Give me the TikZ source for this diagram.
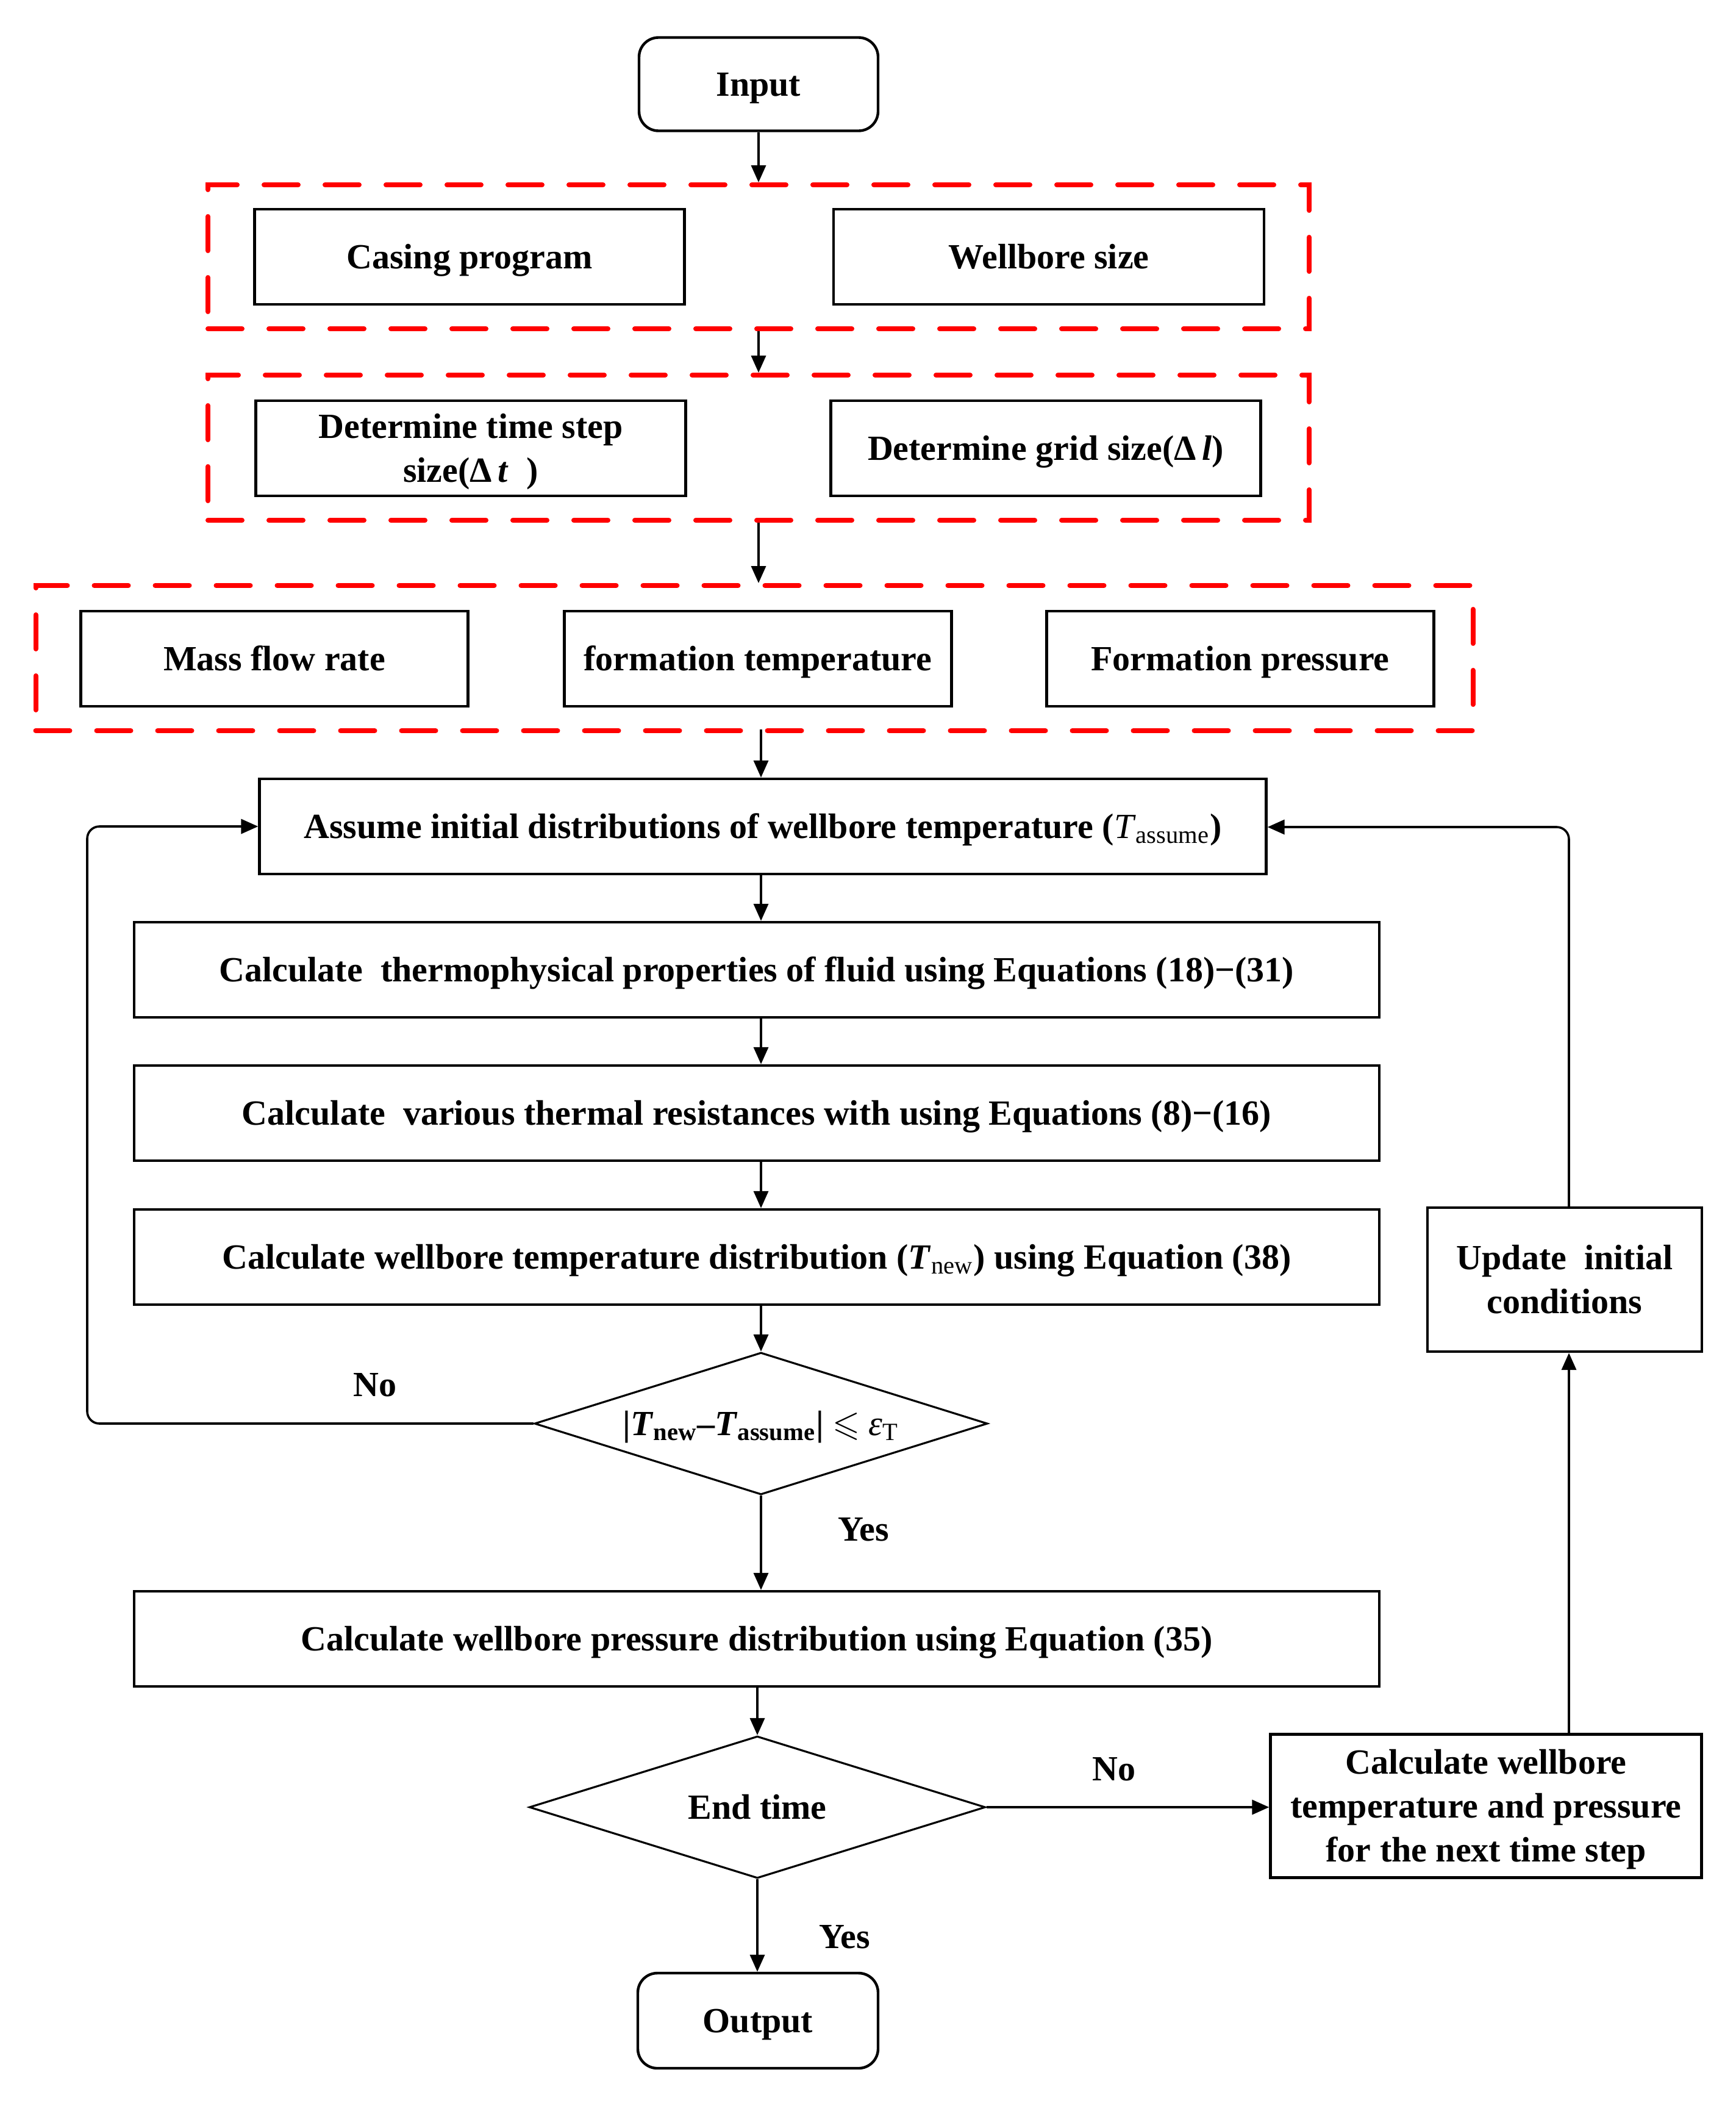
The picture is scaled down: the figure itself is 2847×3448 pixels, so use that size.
\documentclass[tikz,border=0pt]{standalone}
\usepackage{amsmath,amssymb}
\usepackage{fontspec}
\setmainfont{Liberation Serif}
\usetikzlibrary{shapes.geometric,arrows.meta,calc}
\newcommand\mainfs{\fontsize{14.5}{18}\selectfont\bfseries}
\begin{document}
\begin{tikzpicture}[x=0.25pt,y=-0.25pt,
  box/.style={draw,line width=1.1pt,inner sep=0pt,align=center,font=\mainfs,minimum height=39pt,text height=9.6pt,text depth=0pt},
  twoline/.style={text height=27.6pt},
  threeline/.style={text height=45.6pt},
  term/.style={box,rounded corners=8pt},
  dashbox/.style={draw=red,line width=2pt,dash pattern=on 14pt off 11pt,line cap=round,inner sep=0pt},
  dia/.style={diamond,draw,line width=0.8pt,inner sep=0pt,align=center,font=\mainfs,text height=9.6pt,text depth=0pt},
  arr/.style={-{Triangle[length=7pt,width=6pt]},line width=0.9pt},
  lbl/.style={font=\mainfs,inner sep=0pt}]
\useasboundingbox (0,0) rectangle (2847,3448);

\node[term,minimum width=98pt,minimum height=38.25pt] (input) at (1244,138) {Input};

\node[dashbox,minimum width=451.5pt,minimum height=59pt] (dash1) at (1244,421) {};
\node[box,minimum width=176.25pt] (casing) at (770,421) {Casing program};
\node[box,minimum width=176.5pt] (wsize) at (1720,421) {Wellbore size};

\node[dashbox,minimum width=451.5pt,minimum height=59.5pt] (dash2) at (1244,734) {};
\node[box,twoline,minimum width=176.25pt] (dtime) at (772,735) {Determine time step\\size(Δ\,\textit{t}\ \ )};
\node[box,minimum width=176.25pt] (dgrid) at (1715,735) {Determine grid size(Δ\,\textit{l})};

\node[dashbox,minimum width=589.25pt,minimum height=59.5pt] (dash3) at (1237,1079) {};
\node[box,minimum width=158.75pt] (mass) at (450,1080) {Mass flow rate};
\node[box,minimum width=158.75pt] (ftemp) at (1243,1080) {formation temperature};
\node[box,minimum width=158.75pt] (fpress) at (2034,1080) {Formation pressure};

\node[box,minimum width=412.75pt] (assume) at (1251,1355) {Assume initial distributions of wellbore temperature (\textmd{\textit{T}\textsubscript{assume}})};
\node[box,minimum width=510.5pt] (thermo) at (1241,1590) {Calculate~ thermophysical properties of fluid using Equations (18)−(31)};
\node[box,minimum width=510.5pt] (various) at (1241,1825) {Calculate~ various thermal resistances with using Equations (8)−(16)};
\node[box,minimum width=510.5pt] (wtemp) at (1241,2061) {Calculate wellbore temperature distribution (\textit{T}\textsubscript{\mdseries new}) using Equation (38)};

\node[dia,minimum width=185.75pt,minimum height=58.25pt,aspect=3.19] (dia1) at (1248,2334) {|\textit{T}\textsubscript{new}–\textit{T}\textsubscript{assume}| $\boldsymbol{\leqslant}$ \textit{\mdseries ε}\textsubscript{\mdseries T}};

\node[box,minimum width=510.5pt] (press) at (1241,2687) {Calculate wellbore pressure distribution using Equation (35)};

\node[dia,minimum width=187pt,minimum height=58.25pt,aspect=3.2] (dia2) at (1242,2963) {End time};

\node[term,minimum width=98.5pt] (output) at (1243,3313) {Output};

\node[box,threeline,minimum width=176.75pt,minimum height=58.75pt] (next) at (2437,2961) {Calculate wellbore\\temperature and pressure\\for the next time step};
\node[box,twoline,minimum width=112.5pt,minimum height=59pt] (update) at (2566,2098) {Update~ initial\\conditions};

\coordinate (loopL) at (143,2334);
\coordinate (loopR) at (2573,1356);

% main flow
\draw[arr] (input.south) -- (input.south |- dash1.north);
\draw[arr] (input.south |- dash1.south) -- (input.south |- dash2.north);
\draw[arr] (input.south |- dash2.south) -- (input.south |- dash3.north);
\draw[arr] (assume.north -| dia1.north) ++(0,-79) -- (assume.north -| dia1.north);
\draw[arr] (assume.south -| dia1.north) -- (thermo.north -| dia1.north);
\draw[arr] (thermo.south -| dia1.north) -- (various.north -| dia1.north);
\draw[arr] (various.south -| dia1.north) -- (wtemp.north -| dia1.north);
\draw[arr] (wtemp.south -| dia1.north) -- (dia1.north);
\draw[arr] (dia1.south) -- (press.north -| dia1.south);
\draw[arr] (press.south -| dia2.north) -- (dia2.north);
\draw[arr] (dia2.south) -- (output.north -| dia2.south);

% loops
\draw[arr,rounded corners=5pt] (dia1.west) -- (loopL) -- (loopL |- assume.west) -- (assume.west);
\draw[arr] (dia2.east) -- (next.west |- dia2.east);
\draw[arr] (next.north -| loopR) -- (update.south -| loopR);
\draw[arr,rounded corners=5pt] (update.north -| loopR) -- (loopR) -- (assume.east |- loopR);

% labels
\node[lbl] (no1) at (615,2271) {No};
\node[lbl] (yes1) at (1416,2508) {Yes};
\node[lbl] (no2) at (1827,2901) {No};
\node[lbl] (yes2) at (1385,3176) {Yes};
\end{tikzpicture}
\end{document}
